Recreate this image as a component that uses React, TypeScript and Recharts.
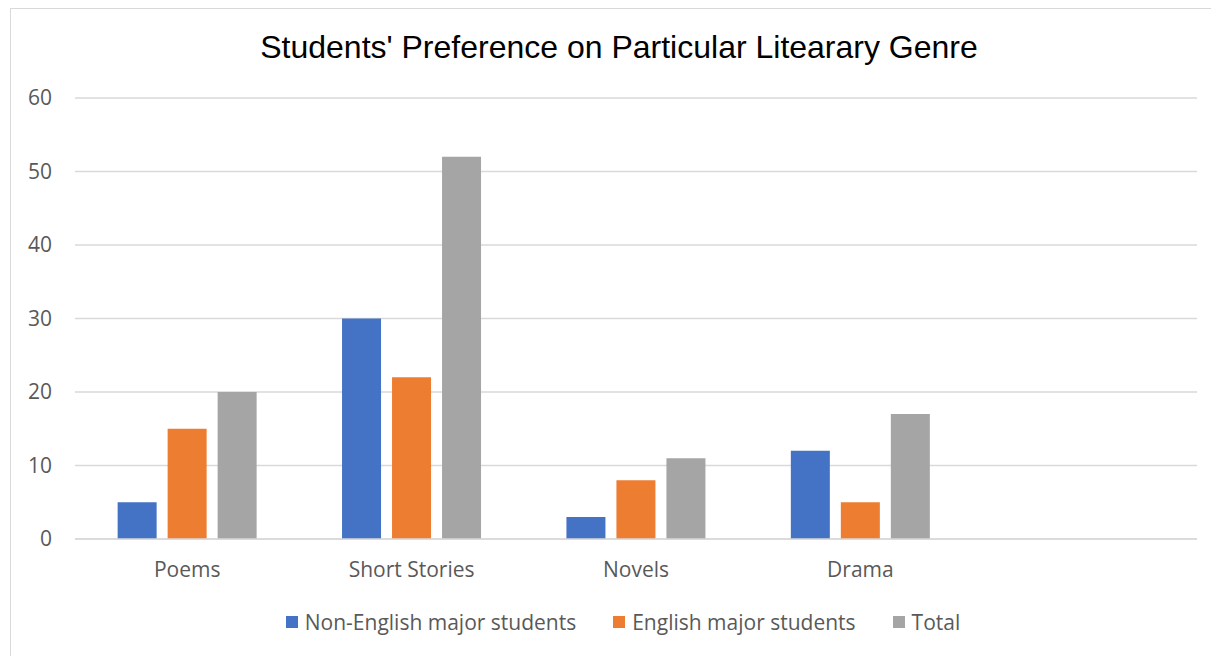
import { BarChart, Bar, XAxis, YAxis, CartesianGrid, Legend } from 'recharts';

const genres = ['Poems', 'Short Stories', 'Novels', 'Drama', ''];
const nonEnglish = [5, 30, 3, 12, null];
const english = [15, 22, 8, 5, null];
const total = [20, 52, 11, 17, null];
const yTicks = [0, 10, 20, 30, 40, 50, 60];

const series = [
  { key: 'nonEnglish', name: 'Non-English major students', color: '#4472c4' },
  { key: 'english', name: 'English major students', color: '#ed7d31' },
  { key: 'total', name: 'Total', color: '#a5a5a5' },
];

const data = genres.map((genre, i) => ({
  genre,
  nonEnglish: nonEnglish[i],
  english: english[i],
  total: total[i],
}));

const W = 1208;
const H = 660;
const tickFont = { fontFamily: '"Open Sans", sans-serif', fontSize: 21, fill: '#595959' };

function renderLegend() {
  return (
    <div style={{ display: 'flex', justifyContent: 'center', gap: 37, fontFamily: '"Open Sans", sans-serif', fontSize: 21, lineHeight: '30px', color: '#595959' }}>
      {series.map((s) => (
        <div key={s.key} style={{ display: 'flex', alignItems: 'center' }}>
          <span style={{ display: 'inline-block', width: 12, height: 12, background: s.color, marginRight: 7 }} />
          <span>{s.name}</span>
        </div>
      ))}
    </div>
  );
}

export default function App() {
  return (
    <div style={{ position: 'relative', marginLeft: 2, width: W, height: H, border: '1px solid #d9d9d9', overflow: 'hidden', background: '#fff' }}>
      <div
        style={{
          position: 'absolute',
          top: 20,
          left: 0,
          width: 1216,
          textAlign: 'center',
          fontFamily: '"Liberation Sans", Arial, sans-serif',
          fontSize: 32,
          color: '#000',
          zIndex: 2,
        }}
      >
        Students' Preference on Particular Litearary Genre
      </div>
      <BarChart
        width={W}
        height={H}
        data={data}
        margin={{ top: 89, right: 22, left: 14, bottom: 60 }}
        barCategoryGap="19%"
        barGap={11}
      >
        <CartesianGrid vertical={false} stroke="#d9d9d9" strokeWidth={1.5} />
        <XAxis
          dataKey="genre"
          axisLine={{ stroke: '#d9d9d9', strokeWidth: 1.5 }}
          tickLine={false}
          tickSize={0}
          tickMargin={23}
          height={40}
          tick={tickFont}
          interval={0}
        />
        <YAxis
          domain={[0, 60]}
          ticks={yTicks}
          axisLine={false}
          tickLine={false}
          tickSize={0}
          tickMargin={23}
          width={50}
          tick={tickFont}
        />
        <Legend
          content={renderLegend}
          wrapperStyle={{ top: 598, left: 16, width: 1192, height: 30 }}
        />
        {series.map((s) => (
          <Bar key={s.key} dataKey={s.key} name={s.name} fill={s.color} isAnimationActive={false} />
        ))}
      </BarChart>
    </div>
  );
}
